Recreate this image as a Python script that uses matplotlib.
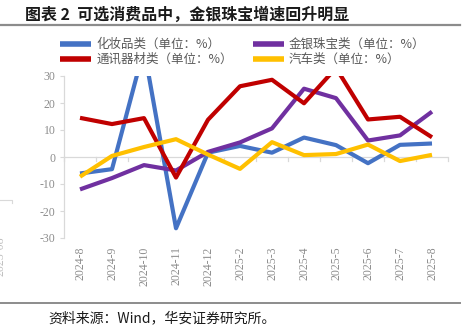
import matplotlib
matplotlib.use("Agg")
import matplotlib.pyplot as plt
from matplotlib.lines import Line2D

plt.rcParams['font.family'] = ['Noto Sans CJK SC', 'DejaVu Sans']

months = ['2024-8', '2024-9', '2024-10', '2024-11', '2024-12', '2025-2',
          '2025-3', '2025-4', '2025-5', '2025-6', '2025-7', '2025-8']
cosmetics = [-6.1, -4.5, 40.1, -26.4, 1.6, 4.1, 1.6, 7.2, 4.4, -2.3, 4.5, 5.0]
jewelry = [-12.0, -7.8, -3.0, -5.0, 1.9, 5.4, 10.6, 25.3, 21.8, 6.1, 8.0, 16.8]
telecom = [14.5, 12.2, 14.4, -7.6, 13.8, 26.2, 28.6, 19.9, 33.0, 13.9, 14.9, 7.3]
auto = [-7.3, 0.4, 3.7, 6.6, 0.9, -4.4, 5.5, 0.7, 1.1, 4.6, -1.5, 0.8]
yticks = [-30, -20, -10, 0, 10, 20, 30]

W, H = 472, 334
fig = plt.figure(figsize=(W / 100, H / 100), dpi=100)
ax = fig.add_axes([64 / W, 1 - 238 / H, (448 - 64) / W, (238 - 76) / H])

x = list(range(len(months)))
lw = 3.0
l1, = ax.plot(x, cosmetics, color='#4472C4', lw=lw, label='化妆品类（单位：%）', solid_capstyle='butt')
l2, = ax.plot(x, jewelry, color='#7030A0', lw=lw, label='金银珠宝类（单位：%）', solid_capstyle='butt')
l3, = ax.plot(x, telecom, color='#C00000', lw=lw, label='通讯器材类（单位：%）', solid_capstyle='butt')
l4, = ax.plot(x, auto, color='#FFC000', lw=lw, label='汽车类（单位：%）', solid_capstyle='butt')

ax.set_xlim(-0.5, len(months) - 0.5)
ax.set_ylim(-30, 30)
ax.set_yticks(yticks)
ax.set_yticklabels([str(v) for v in yticks], fontfamily='Liberation Serif',
                   fontsize=8.5, color='#8C8C8C')
ax.tick_params(axis='y', length=3, color='#D9D9D9', width=0.8, pad=3)

ax.set_xticks(x)
ax.set_xticklabels(months, rotation=90, fontfamily='Liberation Serif',
                   fontsize=8.5, color='#8C8C8C')
ax.tick_params(axis='x', length=0, pad=6)

for s in ['top', 'right', 'bottom']:
    ax.spines[s].set_visible(False)
ax.spines['left'].set_color('#D9D9D9')
ax.spines['left'].set_linewidth(0.9)

# zero line with category boundary ticks
ax.axhline(0, color='#D9D9D9', lw=0.9, zorder=0)
for k in range(len(months) + 1):
    ax.plot([k - 0.5, k - 0.5], [0, -1.3], color='#D9D9D9', lw=0.9, zorder=0,
            clip_on=False)

handles = [l1, l2, l3, l4]
labels = [h.get_label() for h in handles]
order = [0, 2, 1, 3]
leg = fig.legend([handles[i] for i in order], [labels[i] for i in order],
                 ncol=2, loc='upper left', bbox_to_anchor=(60 / W, 1 - 38 / H),
                 frameon=False, fontsize=9, handlelength=2.5, handletextpad=0.4,
                 columnspacing=1.6, labelspacing=0.15, borderaxespad=0,
                 borderpad=0)
for t in leg.get_texts():
    t.set_color('#595959')
for h in leg.legend_handles:
    h.set_linewidth(4)

# title and rules
fig.text(25 / W, 1 - 15 / H, '图表 2  可选消费品中，金银珠宝增速回升明显', fontsize=11.5,
         fontweight='bold', va='center', ha='left', color='#1a1a1a')
fig.add_artist(Line2D([0, 460 / W], [1 - 25 / H, 1 - 25 / H], color='#8C8C8C', lw=1.6))
fig.add_artist(Line2D([0, 460 / W], [1 - 303 / H, 1 - 303 / H], color='#8C8C8C', lw=1.4))
fig.text(48 / W, 1 - 318 / H, '资料来源：Wind，华安证券研究所。', fontsize=10,
         va='center', ha='left', color='#1a1a1a')

# stray fragments at left edge
fig.add_artist(Line2D([0, 12 / W, 12 / W], [1 - 200 / H, 1 - 200 / H, 1 - 203 / H],
                      color='#D9D9D9', lw=0.8))
fig.text(-5 / W, 1 - 236 / H, '2025-08', rotation=90, fontfamily='Liberation Serif',
         fontsize=8.5, color='#BFBFBF', ha='left', va='top')

fig.savefig('out.png', dpi=100)
